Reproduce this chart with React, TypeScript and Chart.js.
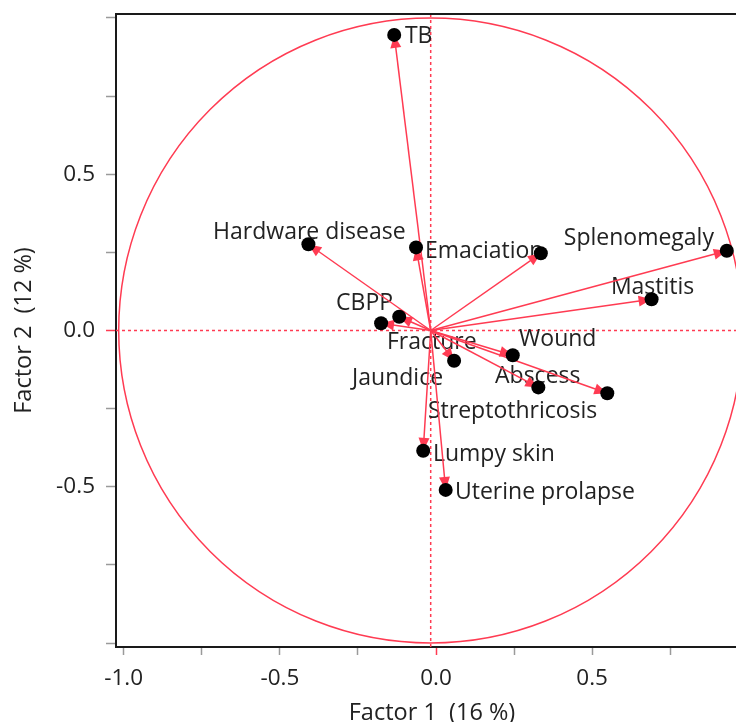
import React, { useEffect, useRef } from 'react';
import { Chart, registerables } from 'chart.js';

Chart.register(...registerables);

// ---- data (loadings on factor 1 / factor 2) ----
const variables = [
  'TB',
  'Hardware disease',
  'Emaciation',
  '', // unlabeled variable in the source picture
  'Splenomegaly',
  'Mastitis',
  'CBPP',
  'Fracture',
  'Jaundice',
  'Wound',
  'Abscess',
  'Streptothricosis',
  'Lumpy skin',
  'Uterine prolapse',
];
const factor1 = [-0.117, -0.392, -0.047, 0.353, 0.949, 0.708, -0.159, -0.101, 0.075, 0.263, 0.345, 0.566, -0.024, 0.048];
const factor2 = [0.946, 0.276, 0.266, 0.247, 0.255, 0.1, 0.023, 0.044, -0.097, -0.079, -0.182, -0.201, -0.385, -0.51];

const xTitle = 'Factor 1  (16 %)';
const yTitle = 'Factor 2  (12 %)';

// ---- styling ----
// label placement: offset (px) from the point centre to the label's left/middle
const labelOffsets: [number, number][] = [
  [10.7, 2],
  [-95.3, -11.6],
  [9, 4.4],
  [0, 0],
  [-163, -12.7],
  [-40.7, -11.3],
  [-45, -20.3],
  [-12.3, 25.3],
  [-102, 17.3],
  [6.3, -15.3],
  [-43.3, -11.3],
  [-179.3, 17.7],
  [9.7, 4],
  [9.3, 3],
];

const RED = '#ff3b52';
const FONT = '"Open Sans", "Noto Sans", sans-serif';
const TEXT = '#222';

const decor = {
  id: 'pcaDecor',
  beforeDatasetsDraw(chart: any) {
    const { ctx, chartArea: a, scales } = chart;
    const xs = scales.x;
    const ys = scales.y;
    const cx = xs.getPixelForValue(0);
    const cy = ys.getPixelForValue(0);
    const rx = xs.getPixelForValue(1) - cx;
    const ry = cy - ys.getPixelForValue(1);
    ctx.save();
    ctx.beginPath();
    ctx.rect(a.left, a.top, a.right - a.left, a.bottom - a.top);
    ctx.clip();

    // correlation circle
    ctx.strokeStyle = RED;
    ctx.lineWidth = 1.5;
    ctx.beginPath();
    ctx.ellipse(cx, cy, rx, ry, 0, 0, Math.PI * 2);
    ctx.stroke();

    // dashed zero lines
    ctx.setLineDash([3, 3]);
    ctx.lineWidth = 1.5;
    ctx.beginPath();
    ctx.moveTo(cx, a.top);
    ctx.lineTo(cx, a.bottom);
    ctx.moveTo(a.left, cy);
    ctx.lineTo(a.right, cy);
    ctx.stroke();
    ctx.setLineDash([]);

    // labels
    ctx.font = `23px ${FONT}`;
    ctx.fillStyle = TEXT;
    ctx.textAlign = 'left';
    ctx.textBaseline = 'middle';
    variables.forEach((name, i) => {
      if (!name) return;
      const px = xs.getPixelForValue(factor1[i]);
      const py = ys.getPixelForValue(factor2[i]);
      ctx.fillText(name, px + labelOffsets[i][0], py + labelOffsets[i][1]);
    });

    // arrows
    ctx.strokeStyle = RED;
    ctx.fillStyle = RED;
    ctx.lineWidth = 1.5;
    variables.forEach((_, i) => {
      const px = xs.getPixelForValue(factor1[i]);
      const py = ys.getPixelForValue(factor2[i]);
      const ang = Math.atan2(py - cy, px - cx);
      ctx.beginPath();
      ctx.moveTo(cx, cy);
      ctx.lineTo(px, py);
      ctx.stroke();
      const hl = 13;
      const hw = 5.5;
      const bx = px - hl * Math.cos(ang);
      const by = py - hl * Math.sin(ang);
      ctx.beginPath();
      ctx.moveTo(px, py);
      ctx.lineTo(bx + hw * Math.sin(ang), by - hw * Math.cos(ang));
      ctx.lineTo(bx - hw * Math.sin(ang), by + hw * Math.cos(ang));
      ctx.closePath();
      ctx.fill();
    });
    ctx.restore();
  },
  afterDraw(chart: any) {
    const { ctx, chartArea: a } = chart;
    ctx.save();
    ctx.strokeStyle = '#1a1a1a';
    ctx.lineWidth = 2;
    ctx.beginPath();
    ctx.moveTo(a.left - 1, a.top);
    ctx.lineTo(a.right, a.top);
    ctx.lineTo(a.right, a.bottom);
    ctx.stroke();
    ctx.restore();
  },
};

const tickLabel = (limit: number) => (v: any) => {
  const n = Number(v);
  const half = Math.abs(n * 2 - Math.round(n * 2)) < 1e-9;
  return half && Math.abs(n) <= limit ? n.toFixed(1) : '';
};

const tickColor = (c: any) => (c.tick && Math.abs(c.tick.value) < 1e-9 ? RED : '#9a9a9a');

export default function App() {
  const ref = useRef<HTMLCanvasElement>(null);

  useEffect(() => {
    if (!ref.current) return;
    const chart = new Chart(ref.current, {
      type: 'scatter',
      data: {
        datasets: [
          {
            label: 'Variables',
            data: factor1.map((x, i) => ({ x, y: factor2[i] })),
            xAxisID: 'x',
            yAxisID: 'y',
            pointRadius: 7,
            pointBackgroundColor: '#000',
            pointBorderWidth: 0,
            pointHoverRadius: 7,
          },
        ],
      },
      options: {
        animation: false,
        responsive: false,
        devicePixelRatio: 1,
        events: [],
        layout: { padding: { left: 0, top: 14, right: 52, bottom: 0 } },
        plugins: { legend: { display: false }, tooltip: { enabled: false } },
        scales: {
          x: {
            type: 'linear',
            display: false,
            min: -1.00865,
            max: 1.01699,
          },
          x2: {
            type: 'linear',
            position: 'bottom',
            min: -1.02466,
            max: 0.99904,
            afterFit: (s: any) => {
              s.height = 75;
              s.paddingLeft = 0;
              s.paddingRight = 0;
            },
            border: { display: true, color: '#1a1a1a', width: 2 },
            grid: {
              drawOnChartArea: false,
              drawTicks: true,
              tickLength: 8,
              tickWidth: 1.5,
              tickColor,
            },
            ticks: {
              stepSize: 0.25,
              includeBounds: false,
              autoSkip: false,
              maxRotation: 0,
              padding: 10,
              color: TEXT,
              font: { family: FONT, size: 22.5 },
              callback: tickLabel(1),
            },
            title: {
              display: true,
              text: xTitle,
              color: TEXT,
              font: { family: FONT, size: 23.5, lineHeight: 1 },
              padding: { top: 0, bottom: -3 },
            },
          },
          y: {
            type: 'linear',
            position: 'left',
            min: -1.0128,
            max: 1.0128,
            afterFit: (s: any) => {
              s.width = 116;
              s.paddingTop = 0;
              s.paddingBottom = 0;
            },
            border: { display: true, color: '#1a1a1a', width: 2 },
            grid: {
              drawOnChartArea: false,
              drawTicks: true,
              tickLength: 10,
              tickWidth: 1.5,
              tickColor,
            },
            ticks: {
              stepSize: 0.25,
              includeBounds: false,
              autoSkip: false,
              padding: 11,
              color: TEXT,
              font: { family: FONT, size: 22.5 },
              callback: tickLabel(0.75),
            },
            title: {
              display: true,
              text: yTitle,
              color: TEXT,
              font: { family: FONT, size: 23.5, lineHeight: 1 },
              padding: { top: 13, bottom: 0 },
            },
          },
        },
      },
      plugins: [decor],
    } as any);
    return () => chart.destroy();
  }, []);

  return (
    <div
      style={{
        position: 'fixed',
        left: 0,
        top: 0,
        width: 736,
        height: 722,
        overflow: 'hidden',
        background: '#fff',
      }}
    >
      <canvas ref={ref} width={800} height={722} style={{ display: 'block', width: 800, height: 722 }} />
    </div>
  );
}
